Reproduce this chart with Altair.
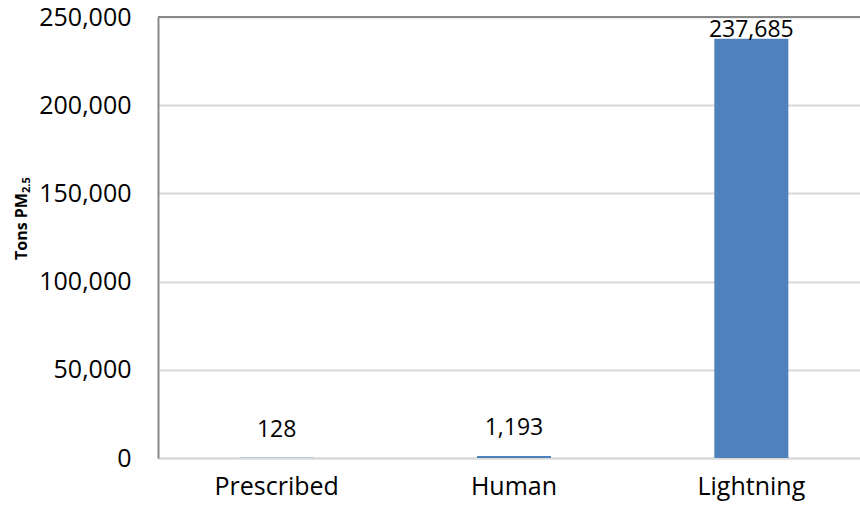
import altair as alt
import pandas as pd

categories = ["Prescribed", "Human", "Lightning"]
values = [128, 1193, 237685]
labels = ["128", "1,193", "237,685"]
y_ticks = [0, 50000, 100000, 150000, 200000, 250000]

df = pd.DataFrame({"cat": categories, "val": values, "lab": labels})
max_val = max(values)

FONT = "Open Sans"
y_scale = alt.Scale(domain=[0, 250000], nice=False)
x_scale = alt.Scale(range=[0, 712], paddingInner=0.688, paddingOuter=0.344)

x_axis = alt.Axis(labelFontSize=25, labelFont=FONT, labelColor="black",
                  labelAngle=0, ticks=False, labelPadding=16,
                  domainColor="#D9D9D9", domainWidth=2)
y_axis = alt.Axis(values=y_ticks, format=",.0f", labelFontSize=25, labelFont=FONT,
                  labelColor="black", ticks=False, labelPadding=27,
                  domainColor="#898989", domainWidth=2,
                  gridColor="#D9D9D9", gridWidth=2)

x_enc = alt.X("cat:N", sort=categories, title=None, scale=x_scale, axis=x_axis)
y_enc = alt.Y("val:Q", title=None, scale=y_scale, axis=y_axis)

base = alt.Chart(df)
bars = base.mark_bar(color="#4F81BD").encode(x=x_enc, y=y_enc)

lab_small = base.transform_filter(alt.datum.val < max_val).mark_text(
    font=FONT, fontSize=23, color="black", baseline="alphabetic", dy=-21
).encode(x=x_enc, y=y_enc, text="lab:N")

lab_big = base.transform_filter(alt.datum.val >= max_val).mark_text(
    font=FONT, fontSize=23, color="black", baseline="alphabetic", dy=-2
).encode(x=x_enc, y=y_enc, text="lab:N")

top_line = alt.Chart(pd.DataFrame({"val": [250000]})).mark_rule(
    color="#898989", strokeWidth=2
).encode(y=y_enc)

title_main = alt.Chart(pd.DataFrame({"t": ["Tons PM"]})).mark_text(
    font=FONT, fontSize=16, fontWeight="bold", color="black",
    angle=270, align="left", baseline="alphabetic"
).encode(text="t:N", x=alt.value(-131), y=alt.value(243))

title_sub = alt.Chart(pd.DataFrame({"t": ["2.5"]})).mark_text(
    font=FONT, fontSize=11, fontWeight="bold", color="black",
    angle=270, align="left", baseline="alphabetic"
).encode(text="t:N", x=alt.value(-128), y=alt.value(176))

chart = alt.layer(bars, top_line, lab_small, lab_big, title_main, title_sub).properties(
    width=702, height=441,
    autosize=alt.AutoSizeParams(type="none"),
    padding={"left": 158, "top": 17, "right": 0, "bottom": 54},
).configure_view(stroke=None).configure(background="white")

chart.save("out.html", embed_options={"renderer": "svg", "actions": False})
